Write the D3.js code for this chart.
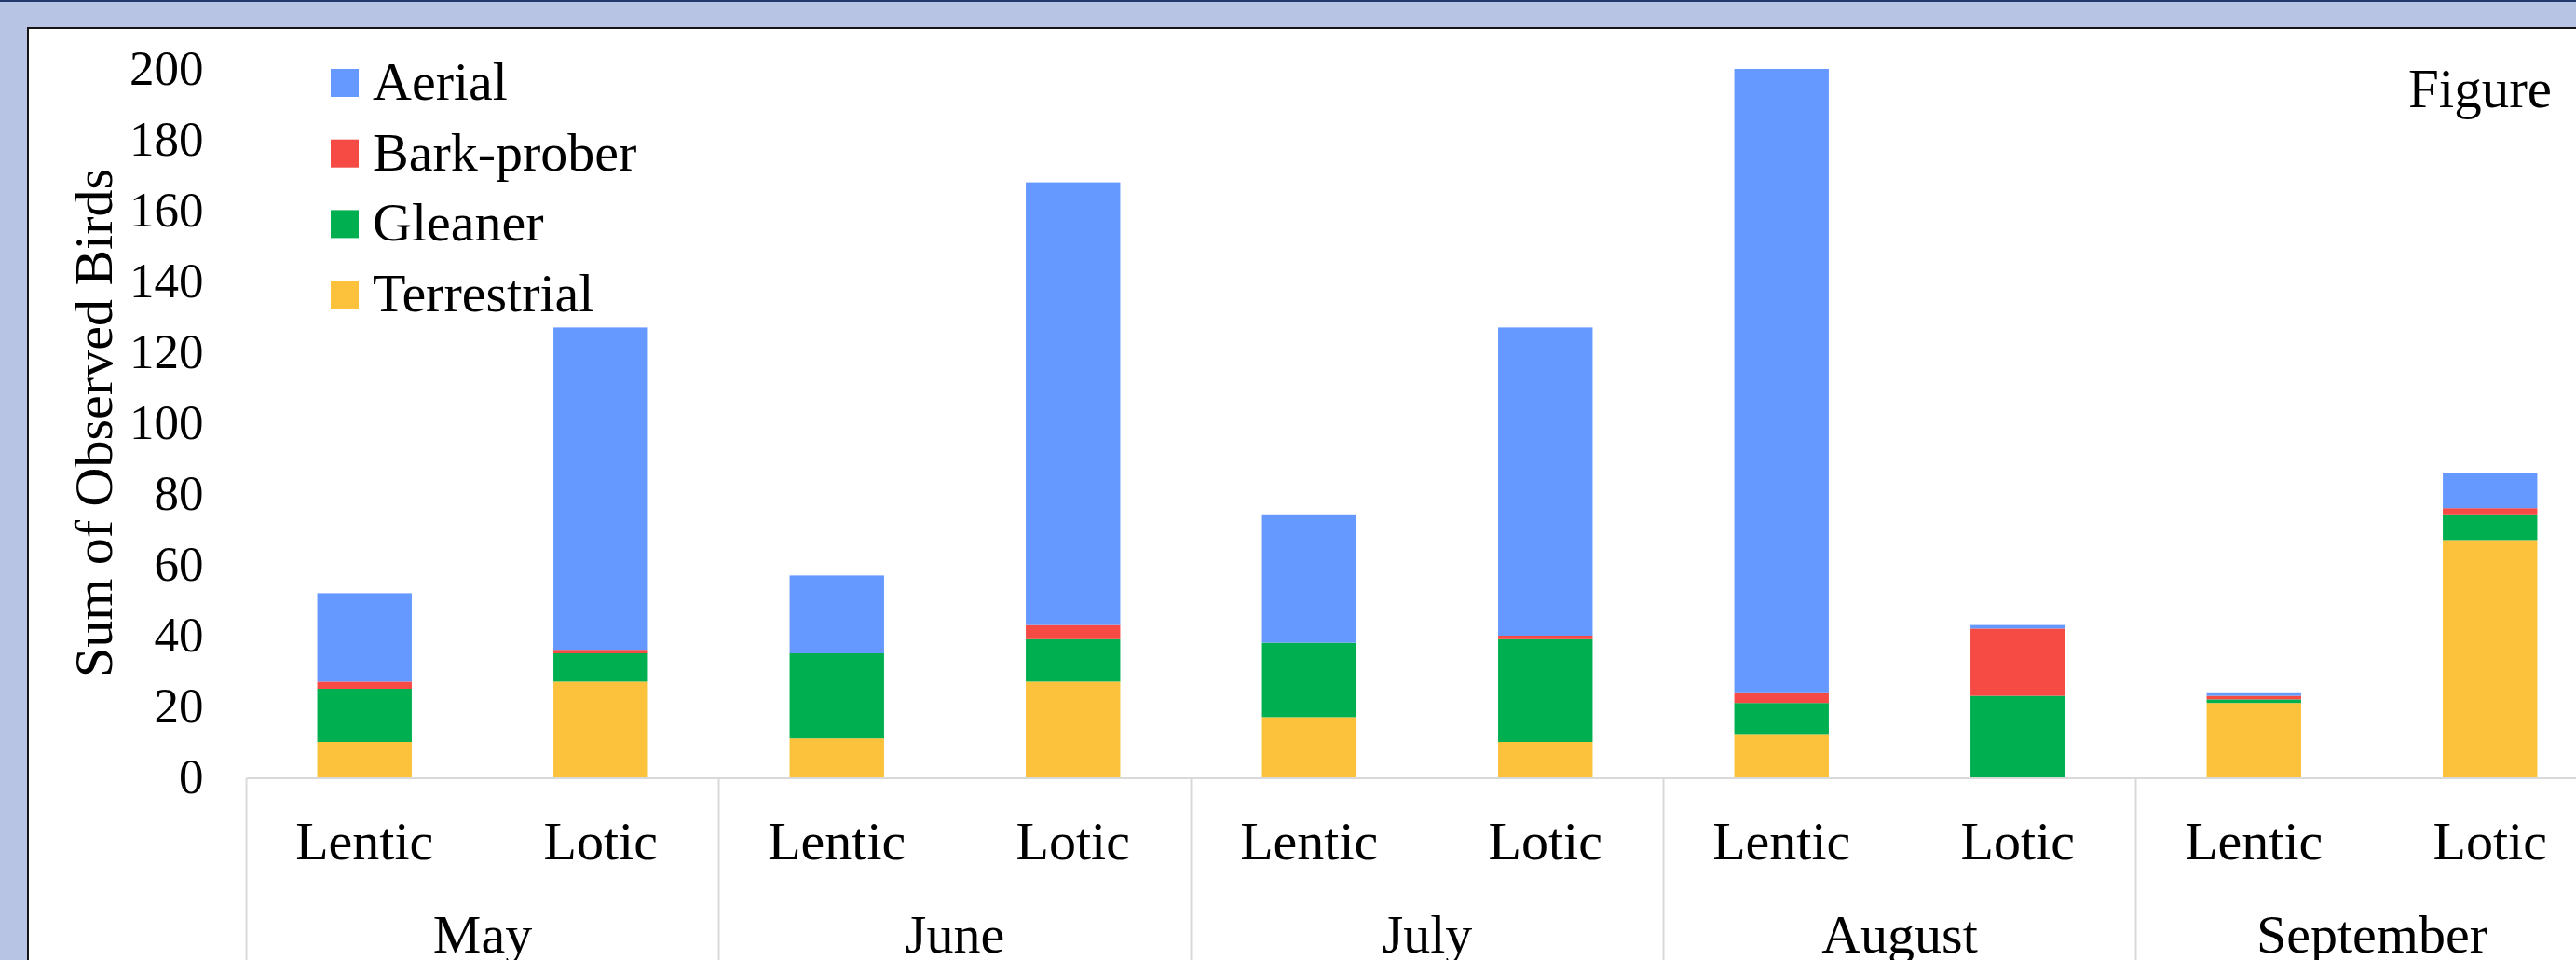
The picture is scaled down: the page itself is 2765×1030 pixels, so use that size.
<!DOCTYPE html>
<html>
<head>
<meta charset="utf-8">
<script src="https://cdn.jsdelivr.net/npm/d3@7"></script>
<style>
  html, body { margin: 0; padding: 0; background: #b7c4e4; overflow: hidden; }
  svg { display: block; }
  text { font-family: "Liberation Serif", "Times New Roman", serif; fill: #000; }
</style>
</head>
<body>
<svg id="chart" width="2765" height="1030"></svg>
<script>
// Months and habitat types on the two-level category axis
const months = ["May", "June", "July", "August", "September"];
const habitats = ["Lentic", "Lotic"];

// Counts per month, Lentic then Lotic
const terrestrial = [10, 27, 11, 27, 17, 10, 12, 0, 21, 67];
const gleaner     = [15, 8, 24, 12, 21, 29, 9, 23, 1, 7];
const barkProber  = [2, 1, 0, 4, 0, 1, 3, 19, 1, 2];
const aerial      = [25, 91, 22, 125, 36, 87, 176, 1, 1, 10];

// Stack order (bottom to top) and legend order (top to bottom)
const seriesNames = ["Terrestrial", "Gleaner", "Bark-prober", "Aerial"];
const legendNames = ["Aerial", "Bark-prober", "Gleaner", "Terrestrial"];
const yTicks = [0, 20, 40, 60, 80, 100, 120, 140, 160, 180, 200];
const yTitle = "Sum of Observed Birds";
const cornerLabel = "Figure";

const colors = {
  "Aerial": "#6699ff",
  "Bark-prober": "#f64a45",
  "Gleaner": "#00af50",
  "Terrestrial": "#fdc23c"
};

const W = 2765, H = 1030;
const svg = d3.select("#chart");

// Slide frame: pale blue surround, navy rule on top, dark edge around the white panel
svg.append("rect").attr("x", 0).attr("y", 0).attr("width", W).attr("height", H).attr("fill", "#b7c4e4");
svg.append("rect").attr("x", 0).attr("y", 0).attr("width", W).attr("height", 2).attr("fill", "#23386c");
svg.append("rect").attr("x", 31).attr("y", 31).attr("width", W - 31).attr("height", H - 31).attr("fill", "#ffffff");
svg.append("path")
  .attr("d", `M30,${H} V30 H${W}`)
  .attr("fill", "none").attr("stroke", "#141414").attr("stroke-width", 2);

// Rows of the table-like data
const rows = [];
months.forEach((m, i) => {
  habitats.forEach((h, j) => {
    const k = i * 2 + j;
    rows.push({
      month: m, habitat: h,
      "Terrestrial": terrestrial[k],
      "Gleaner": gleaner[k],
      "Bark-prober": barkProber[k],
      "Aerial": aerial[k]
    });
  });
});

// Scales
const plotLeft = 264.5, groupWidth = 507;
const x0 = d3.scaleBand().domain(months)
  .range([plotLeft, plotLeft + groupWidth * months.length])
  .paddingInner(0).paddingOuter(0);
const x1 = d3.scaleBand().domain(habitats)
  .range([0, x0.bandwidth()])
  .paddingInner(0.6).paddingOuter(0.3);
const y = d3.scaleLinear().domain([0, 200]).range([834, 74]);

// Stacked bars
const stacked = d3.stack().keys(seriesNames)(rows);
svg.append("g").selectAll("g")
  .data(stacked)
  .join("g")
  .attr("fill", d => colors[d.key])
  .selectAll("rect")
  .data(d => d)
  .join("rect")
  .attr("x", d => x0(d.data.month) + x1(d.data.habitat))
  .attr("width", x1.bandwidth())
  .attr("y", d => y(d[1]))
  .attr("height", d => y(d[0]) - y(d[1]));

// Value axis: labels only
const yAxis = svg.append("g")
  .attr("transform", `translate(${plotLeft},0)`)
  .call(d3.axisLeft(y).tickValues(yTicks).tickSize(0).tickPadding(46));
yAxis.select(".domain").remove();
yAxis.selectAll("text")
  .style("font-family", '"Liberation Serif", "Times New Roman", serif')
  .style("font-size", "53px")
  .attr("fill", "#000");

// Axis title
svg.append("text")
  .attr("transform", `translate(120,454) rotate(-90)`)
  .attr("text-anchor", "middle")
  .style("font-size", "58px")
  .text(yTitle);

// Category axis: baseline and month separators
const gridColor = "#d9d9d9";
const catAxis = svg.append("g");
catAxis.append("line")
  .attr("x1", plotLeft).attr("x2", W)
  .attr("y1", y(0) + 1).attr("y2", y(0) + 1)
  .attr("stroke", gridColor).attr("stroke-width", 2);
const boundaries = months.map(m => x0(m)).concat([x0.range()[1]]);
catAxis.selectAll("line.sep")
  .data(boundaries)
  .join("line")
  .attr("class", "sep")
  .attr("x1", d => d).attr("x2", d => d)
  .attr("y1", y(0) + 1).attr("y2", H)
  .attr("stroke", gridColor).attr("stroke-width", 2);

// Habitat labels
catAxis.selectAll("text.hab")
  .data(rows)
  .join("text")
  .attr("class", "hab")
  .attr("x", d => x0(d.month) + x1(d.habitat) + x1.bandwidth() / 2)
  .attr("y", 922)
  .attr("text-anchor", "middle")
  .style("font-size", "58px")
  .text(d => d.habitat);

// Month labels
catAxis.selectAll("text.month")
  .data(months)
  .join("text")
  .attr("class", "month")
  .attr("x", d => x0(d) + x0.bandwidth() / 2)
  .attr("y", 1022)
  .attr("text-anchor", "middle")
  .style("font-size", "58px")
  .text(d => d);

// Legend
const legend = svg.append("g");
const legendRow = legend.selectAll("g")
  .data(legendNames)
  .join("g")
  .attr("transform", (d, i) => `translate(355,${74 + i * 75.7})`);
legendRow.append("rect")
  .attr("width", 30).attr("height", 30)
  .attr("fill", d => colors[d]);
legendRow.append("text")
  .attr("x", 45).attr("y", 33)
  .style("font-size", "58px")
  .text(d => d);

// Corner caption
svg.append("text")
  .attr("x", 2585).attr("y", 115)
  .style("font-size", "59px")
  .text(cornerLabel);
</script>
</body>
</html>
